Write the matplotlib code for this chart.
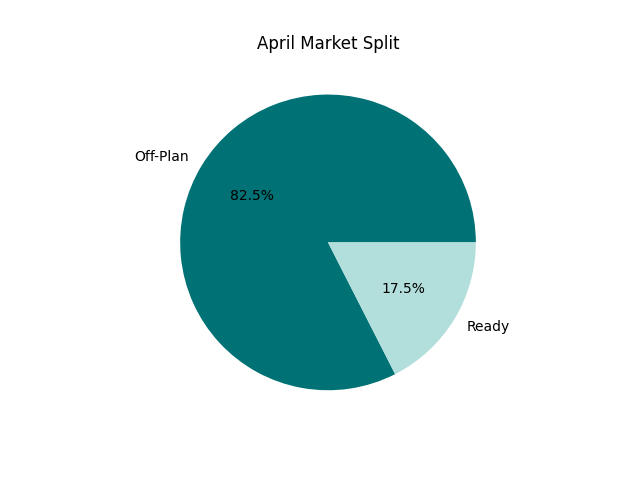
import matplotlib
matplotlib.use("Agg")
import matplotlib.pyplot as plt

labels = ['Off-Plan', 'Ready']
shares = [82.5, 17.5]
colors = ['#007174', '#b2dfdb']

plt.figure(figsize=(6.4, 4.8), dpi=100)
plt.pie(shares, labels=labels, colors=colors, autopct='%1.1f%%')
plt.title("April Market Split")
plt.savefig("out.png")
